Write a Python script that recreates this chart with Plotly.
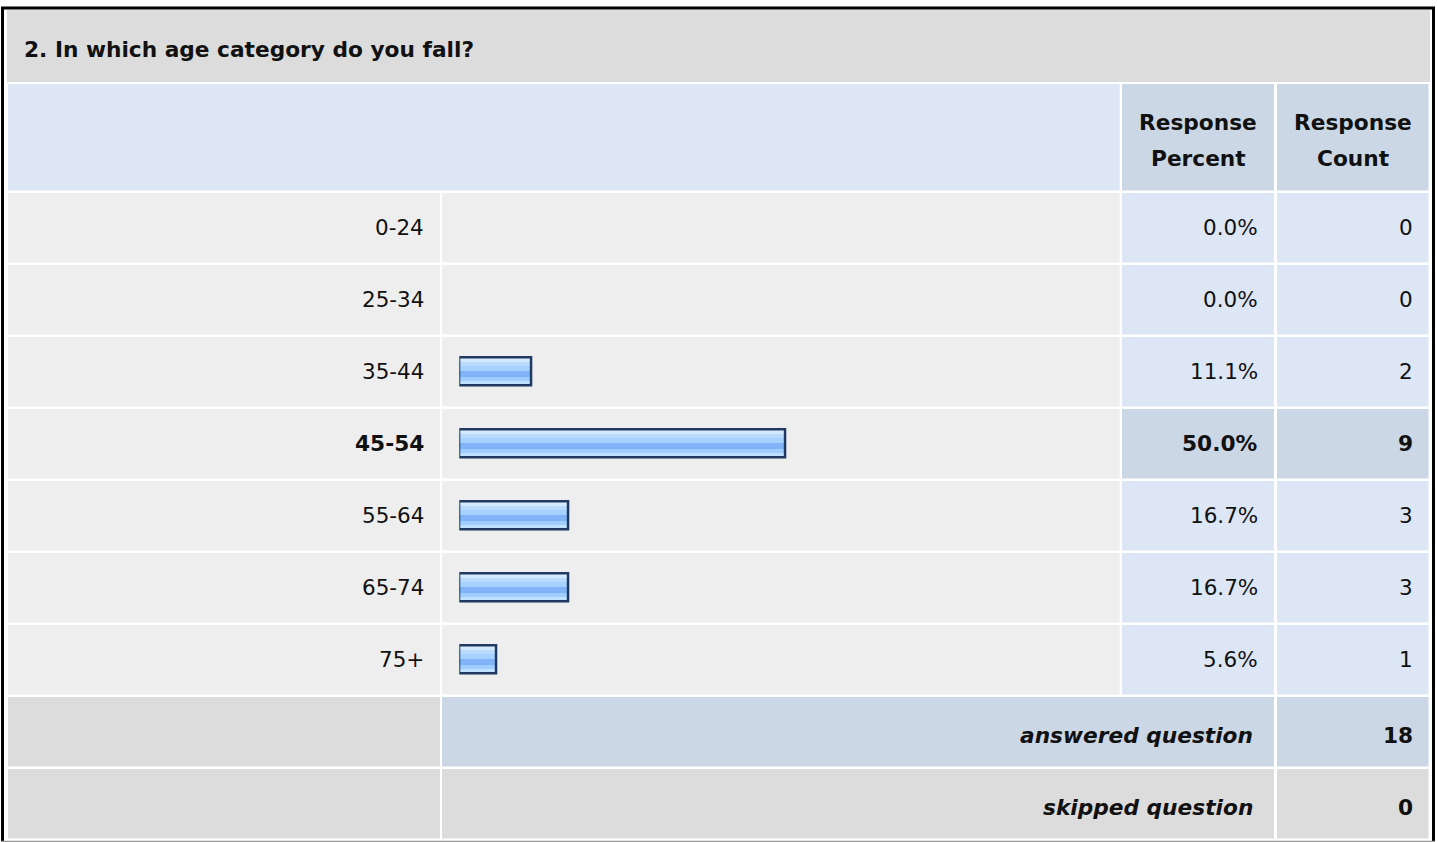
import plotly.graph_objects as go

# ---------------- data ----------------
title = "2. In which age category do you fall?"
categories = ["0-24", "25-34", "35-44", "45-54", "55-64", "65-74", "75+"]
percents = [0.0, 0.0, 11.1, 50.0, 16.7, 16.7, 5.6]
counts = [0, 0, 2, 9, 3, 3, 1]
answered = 18
skipped = 0
header_pct = ["Response", "Percent"]
header_cnt = ["Response", "Count"]

W, H = 1438, 842
FONT = "DejaVu Sans"
FS = 21.5
FSB = 21.7


def X(px):
    return px / W


def Y(py):
    return 1 - py / H


fig = go.Figure()
shapes = []


def rect(x0, y0, x1, y1, color):
    shapes.append(dict(type="rect", xref="paper", yref="paper",
                       x0=X(x0), x1=X(x1), y0=Y(y1), y1=Y(y0),
                       fillcolor=color, line=dict(width=0), layer="below"))


GRAY = "#DCDCDC"
BLUE = "#DCE6F4"
BLUE2 = "#CBD7E5"
LIGHT = "#EEEEEE"

# column edges
c_lab = (8, 440)
c_bar = (442, 1119.7)
c_pct = (1122, 1274)
c_cnt = (1277, 1428.5)

# title band & header
rect(7, 10, 1430, 82, GRAY)
rect(8, 84, 1119.7, 190.5, BLUE)
rect(c_pct[0], 84, c_pct[1], 190.5, BLUE2)
rect(c_cnt[0], 84, c_cnt[1], 190.5, BLUE2)

imax = percents.index(max(percents))
for i in range(len(categories)):
    y0 = 193 + 72 * i
    y1 = y0 + 69.5
    rect(c_lab[0], y0, c_lab[1], y1, LIGHT)
    rect(c_bar[0], y0, c_bar[1], y1, LIGHT)
    col = BLUE2 if i == imax else BLUE
    rect(c_pct[0], y0, c_pct[1], y1, col)
    rect(c_cnt[0], y0, c_cnt[1], y1, col)

n = len(categories)
# answered row
y0 = 193 + 72 * n
rect(c_lab[0], y0, c_lab[1], y0 + 69.5, GRAY)
rect(c_bar[0], y0, c_pct[1], y0 + 69.5, BLUE2)
rect(c_cnt[0], y0, c_cnt[1], y0 + 69.5, BLUE2)
# skipped row
y0 = 193 + 72 * (n + 1)
rect(c_lab[0], y0, c_lab[1], y0 + 69.5, GRAY)
rect(c_bar[0], y0, c_pct[1], y0 + 69.5, GRAY)
rect(c_cnt[0], y0, c_cnt[1], y0 + 69.5, GRAY)


# frame
def line(x0, y0, x1, y1, color, w):
    shapes.append(dict(type="line", xref="paper", yref="paper",
                       x0=X(x0), x1=X(x1), y0=Y(y0), y1=Y(y1),
                       line=dict(color=color, width=w), layer="above"))


line(1, 8, 1435, 8, "#000000", 3)
line(2.5, 7, 2.5, 842, "#000000", 3)
line(1433.5, 7, 1433.5, 842, "#000000", 3)
line(1, 841.5, 1435, 841.5, "#999999", 1.5)

# ---------------- bars ----------------
PITCH = 72.0
bar_x = [p if p > 0 else None for p in percents]  # empty answers draw no bar
stripes = [(-13, -10, "#D2E9FF"), (-10, -6, "#B8DAFF"), (-6, -1, "#A6D0FF"),
           (-1, 5, "#80B4F6"), (5, 9, "#A0CDFF"), (9, 13, "#BFE0FF")]
for a, b, c in stripes:
    fig.add_trace(go.Bar(x=bar_x, y=categories, orientation="h",
                         width=(b - a) / PITCH, offset=a / PITCH,
                         marker=dict(color=c, line=dict(width=0)),
                         hoverinfo="skip", showlegend=False))
fig.add_trace(go.Bar(x=bar_x, y=categories, orientation="h",
                     width=28 / PITCH, offset=-14 / PITCH,
                     marker=dict(color="rgba(0,0,0,0)",
                                 line=dict(color="#1E3A62", width=2.5)),
                     hoverinfo="skip", showlegend=False))

# ---------------- text ----------------
ann = []


def text(s, x, y, anchor="right", bold=False, italic=False, yref="paper"):
    size = FSB if bold else FS
    if bold:
        s = "<b>" + s + "</b>"
    if italic:
        s = "<i>" + s + "</i>"
    ann.append(dict(text=s, x=X(x), y=y if yref != "paper" else Y(y),
                    xref="paper", yref=yref, xanchor=anchor, yanchor="middle",
                    showarrow=False, font=dict(family=FONT, size=size, color="#111111")))


text(title, 22, 50, anchor="left", bold=True)
text(header_pct[0], 1198, 123, anchor="center", bold=True)
text(header_pct[1], 1198, 159, anchor="center", bold=True)
text(header_cnt[0], 1353, 123, anchor="center", bold=True)
text(header_cnt[1], 1353, 159, anchor="center", bold=True)

for i, cat in enumerate(categories):
    b = i == imax
    text(cat, 426, cat, bold=b, yref="y")
    text(f"{percents[i]:.1f}%", 1259.5, cat, bold=b, yref="y")
    text(str(counts[i]), 1415, cat, bold=b, yref="y")

text("answered question", 1255, 735, bold=True, italic=True)
text(str(answered), 1415, 735, bold=True)
text("skipped question", 1255, 807, bold=True, italic=True)
text(str(skipped), 1415, 807, bold=True)

fig.update_layout(
    width=W, height=H, margin=dict(l=0, r=0, t=0, b=0),
    paper_bgcolor="#FFFFFF", plot_bgcolor="rgba(0,0,0,0)",
    barmode="overlay", bargap=0,
    shapes=shapes, annotations=ann,
    xaxis=dict(domain=[X(459.3), X(1111.3)], range=[0, 100], visible=False, fixedrange=True),
    yaxis=dict(domain=[Y(695.5), Y(191.5)], type="category",
               categoryorder="array", categoryarray=categories,
               range=[len(categories) - 0.5, -0.5], visible=False, fixedrange=True),
    showlegend=False,
)

fig.write_html("out.html", config={"displayModeBar": False},
               post_script="document.body.style.margin='0';document.body.style.overflow='hidden';")
